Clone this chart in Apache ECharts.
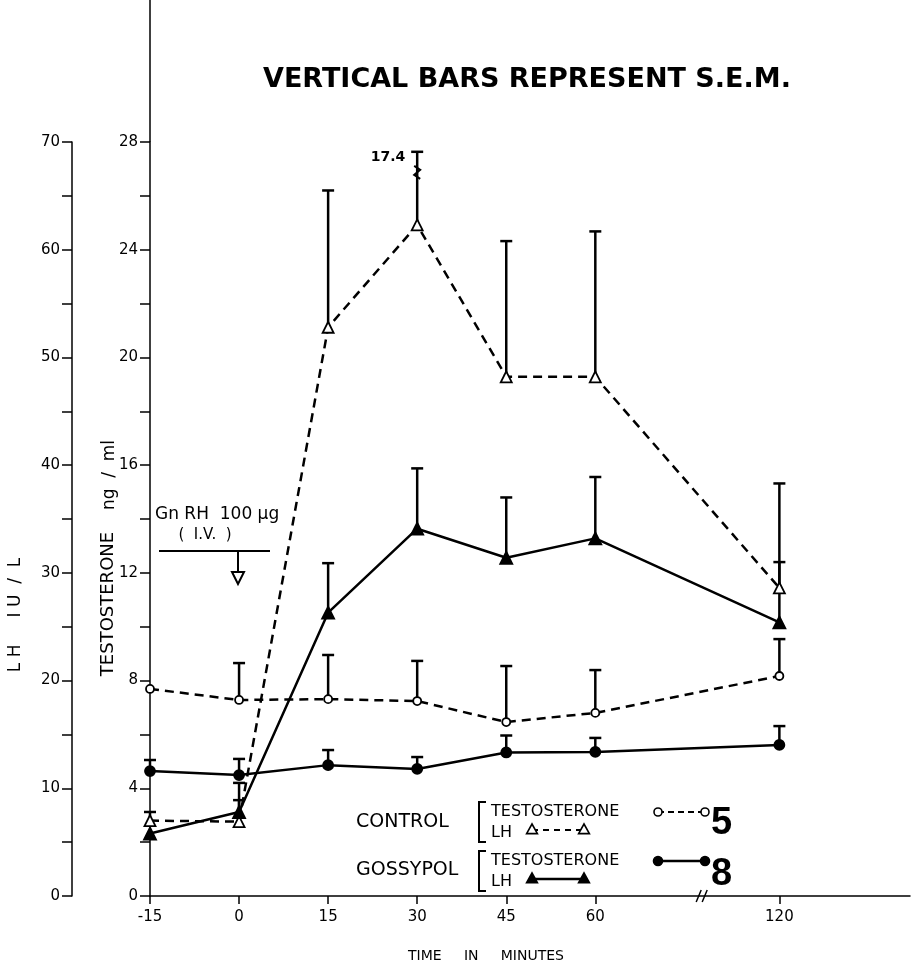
<!DOCTYPE html>
<html><head><meta charset="utf-8">
<script src="https://cdn.jsdelivr.net/npm/echarts@6/dist/echarts.min.js"></script>
<style>html,body{margin:0;padding:0;background:#fff}#c{width:911px;height:968px}</style>
</head><body><div id="c"></div>
<script>
// ---- data ----
const times = [-15, 0, 15, 30, 45, 60, 120];            // minutes
const controlT      = [7.69, 7.28, 7.31, 7.24, 6.46, 6.80, 8.17];   // ng/ml
const controlTSem   = [0, 1.37, 1.64, 1.49, 2.08, 1.59, 1.37];
const gossypolT     = [4.64, 4.49, 4.86, 4.72, 5.33, 5.35, 5.61];
const gossypolTSem  = [0.41, 0.60, 0.56, 0.44, 0.63, 0.52, 0.70];
const controlLH     = [7.0, 6.9, 52.8, 62.3, 48.2, 48.2, 28.6];     // IU/L
const controlLHSem  = [0.8, 2.0, 12.7, 17.4, 12.6, 13.5, 9.7];
const gossypolLH    = [5.8, 7.8, 26.3, 34.1, 31.4, 33.2, 25.4];
const gossypolLHSem = [0, 2.7, 4.6, 5.6, 5.6, 5.7, 5.6];
const tAxisMax = 28, tAxisStep = 4;
const lhAxisMax = 70, lhAxisStep = 10;

// broken time axis: minutes after 60 are drawn compressed
const BREAK_AT = 60, BREAK_SHIFT = 29, BREAK_MARK = 78;
const pt = t => (t > BREAK_AT ? t - BREAK_SHIFT : t);
const unpt = v => (v > BREAK_AT ? v + BREAK_SHIFT : v);

const FONT = 'DejaVu Sans';
const GRID = {left: 150, right: 1, top: 142, bottom: 72};

const chart = echarts.init(document.getElementById('c'));

function pts(vals) { return times.map((t, i) => [pt(t), vals[i]]); }
function errPts(vals, sems) { return times.map((t, i) => [pt(t), vals[i], sems[i]]); }

function makeErr(axisMax) {
  return function (params, api) {
    const x = api.value(0), m = api.value(1), s = api.value(2);
    if (!(s > 0)) return null;
    let top = m + s, clipped = false;
    const lim = axisMax * 0.987;
    if (top > lim) { top = lim; clipped = true; }
    const a = api.coord([x, m]), b = api.coord([x, top]);
    const st = {stroke: '#000', lineWidth: 2.5};
    const ch = [
      {type: 'line', shape: {x1: a[0], y1: a[1], x2: b[0], y2: b[1]}, style: st},
      {type: 'line', shape: {x1: b[0] - 6, y1: b[1], x2: b[0] + 6, y2: b[1]}, style: st}
    ];
    if (clipped) {
      ch.push({type: 'text', style: {text: String(s), x: b[0] - 12, y: b[1] + 6, align: 'right',
        verticalAlign: 'middle', font: 'bold 14px "' + FONT + '"', fill: '#000'}});
      ch.push({type: 'polyline', shape: {points: [[b[0] - 3, b[1] + 14], [b[0] + 3, b[1] + 18], [b[0] - 3, b[1] + 23], [b[0] + 3, b[1] + 27]]},
        style: {stroke: '#000', lineWidth: 2, fill: null}});
    }
    return {type: 'group', children: ch};
  };
}

function lineSeries(vals, yIdx, dashed, symbol, filled, size) {
  return {
    type: 'line', yAxisIndex: yIdx, data: pts(vals), symbol: symbol, symbolSize: size,
    showSymbol: true, z: 5,
    lineStyle: {color: '#000', width: 2.5, type: dashed ? [9, 6] : 'solid'},
    itemStyle: {color: filled ? '#000' : '#fff', borderColor: '#000', borderWidth: 1.8},
    emphasis: {disabled: true}
  };
}
function errSeries(vals, sems, yIdx, axisMax) {
  return {type: 'custom', yAxisIndex: yIdx, data: errPts(vals, sems), renderItem: makeErr(axisMax), z: 3, clip: false};
}

function yAxisDef(max, step, offset) {
  return {
    type: 'value', position: 'left', offset: offset, min: 0, max: max, interval: step,
    axisLine: {show: true, onZero: false, lineStyle: {color: '#000', width: 1.5}},
    axisTick: {show: true, length: 10, lineStyle: {color: '#000', width: 1.5}},
    minorTick: {show: true, splitNumber: 2, length: 10, lineStyle: {color: '#000', width: 1.5}},
    splitLine: {show: false}, minorSplitLine: {show: false},
    axisLabel: {color: '#000', fontSize: 15, fontFamily: FONT, margin: 12}
  };
}

const option = {
  animation: false,
  backgroundColor: '#fff',
  grid: GRID,
  xAxis: {
    type: 'value', min: times[0], max: 113,
    axisLine: {show: true, onZero: false, lineStyle: {color: '#000', width: 1.5}},
    axisTick: {show: true, length: 8, customValues: times.map(pt), lineStyle: {color: '#000', width: 1.5}},
    axisLabel: {customValues: times.map(pt), formatter: v => String(Math.round(unpt(v))),
      color: '#000', fontSize: 15, fontFamily: FONT, margin: 14},
    splitLine: {show: false}
  },
  yAxis: [yAxisDef(tAxisMax, tAxisStep, 0), yAxisDef(lhAxisMax, lhAxisStep, 78)],
  series: [
    errSeries(controlT, controlTSem, 0, tAxisMax),
    errSeries(gossypolT, gossypolTSem, 0, tAxisMax),
    errSeries(controlLH, controlLHSem, 1, lhAxisMax),
    errSeries(gossypolLH, gossypolLHSem, 1, lhAxisMax),
    lineSeries(controlT, 0, true, 'circle', false, 8),
    lineSeries(gossypolT, 0, false, 'circle', true, 10),
    lineSeries(controlLH, 1, true, 'triangle', false, 11),
    lineSeries(gossypolLH, 1, false, 'triangle', true, 12)
  ]
};
chart.setOption(option);

// ---- decorations (text, legend, annotation) ----
const S = {stroke: '#000', lineWidth: 2, fill: null};
function txt(text, x, y, font, opts) {
  return Object.assign({type: 'text', x: x, y: y, style: Object.assign({text: text, font: font, fill: '#000',
    align: 'left', verticalAlign: 'middle'}, opts && opts.style || {})}, opts && opts.el || {});
}
function ln(x1, y1, x2, y2, w, dash) {
  return {type: 'line', shape: {x1, y1, x2, y2}, style: {stroke: '#000', lineWidth: w || 2, lineDash: dash || null}};
}
function circ(cx, cy, r, filled) {
  return {type: 'circle', shape: {cx, cy, r}, style: {stroke: '#000', lineWidth: 1.6, fill: filled ? '#000' : '#fff'}, z: 10};
}
function tri(cx, cy, r, filled) {
  return {type: 'polygon', shape: {points: [[cx, cy - r], [cx + r * 0.9, cy + r * 0.6], [cx - r * 0.9, cy + r * 0.6]]},
    style: {stroke: '#000', lineWidth: 1.6, fill: filled ? '#000' : '#fff'}, z: 10};
}

const bx = chart.convertToPixel({xAxisIndex: 0}, BREAK_MARK);
const axY = 968 - GRID.bottom;
const g = [
  // T axis line continues to the top of the figure
  ln(GRID.left, 0, GRID.left, GRID.top, 1.5),
  // title
  txt('VERTICAL BARS REPRESENT S.E.M.', 263, 80, 'bold 27px "' + FONT + '"'),
  // axis titles
  txt('L H     I U  /  L', 16, 615, '17px "' + FONT + '"', {el: {rotation: Math.PI / 2}, style: {align: 'center'}}),
  txt('TESTOSTERONE', 108, 604, '18px "' + FONT + '"', {el: {rotation: Math.PI / 2}, style: {align: 'center'}}),
  txt('ng  /  ml', 110, 475, '17px "' + FONT + '"', {el: {rotation: Math.PI / 2}, style: {align: 'center'}}),
  txt('TIME     IN     MINUTES', 486, 956, '14px "' + FONT + '"', {style: {align: 'center'}}),
  // break mark on time axis
  ln(bx - 6, axY + 6, bx - 1, axY - 6, 1.5),
  ln(bx, axY + 6, bx + 5, axY - 6, 1.5),
  // GnRH injection annotation
  txt('Gn RH  100 \u03bcg', 155, 515, '17px "' + FONT + '"'),
  txt('(  I.V.  )', 205, 535, '15px "' + FONT + '"', {style: {align: 'center'}}),
  ln(159, 551, 270, 551, 2),
  ln(238, 551, 238, 573, 2),
  {type: 'polygon', shape: {points: [[232, 572], [244, 572], [238, 584]]}, style: {stroke: '#000', lineWidth: 2, fill: '#fff'}},
  // legend: control
  txt('CONTROL', 356, 822, '19px "' + FONT + '"'),
  {type: 'polyline', shape: {points: [[486, 802], [479, 802], [479, 842], [486, 842]]}, style: S},
  txt('TESTOSTERONE', 491, 812, '16px "' + FONT + '"'),
  txt('LH', 491, 833, '16px "' + FONT + '"'),
  ln(532, 830, 584, 830, 2.2, [6, 5]), tri(532, 830, 6, false), tri(584, 830, 6, false),
  ln(658, 812, 705, 812, 2.2, [6, 4]), circ(658, 812, 4, false), circ(705, 812, 4, false),
  txt('5', 711, 824, 'bold 38px "Liberation Sans"'),
  // legend: gossypol
  txt('GOSSYPOL', 356, 870, '19px "' + FONT + '"'),
  {type: 'polyline', shape: {points: [[486, 851], [479, 851], [479, 891], [486, 891]]}, style: S},
  txt('TESTOSTERONE', 491, 861, '16px "' + FONT + '"'),
  txt('LH', 491, 882, '16px "' + FONT + '"'),
  ln(532, 879, 584, 879, 2.5), tri(532, 879, 6, true), tri(584, 879, 6, true),
  ln(658, 861, 705, 861, 2.5), circ(658, 861, 4.5, true), circ(705, 861, 4.5, true),
  txt('8', 711, 875, 'bold 38px "Liberation Sans"')
];
chart.setOption({graphic: {elements: g}});
</script>
</body></html>
